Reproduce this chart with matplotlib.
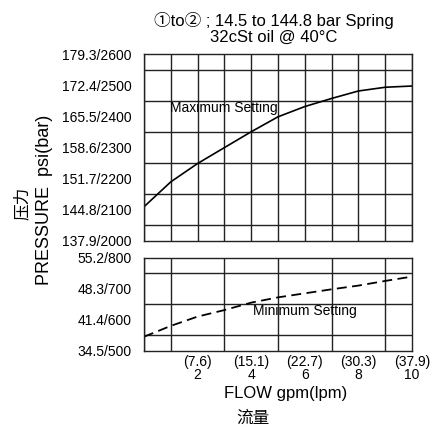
import matplotlib
matplotlib.use('Agg')
import matplotlib.pyplot as plt
import numpy as np

plt.rcParams['font.family'] = ['Liberation Sans', 'Noto Sans CJK SC', 'DejaVu Sans']

# flow in gpm
flow = [0, 1, 2, 3, 4, 5, 6, 7, 8, 9, 10]
# pressure in psi
max_setting = [2110, 2190, 2249, 2300, 2351, 2399, 2432, 2458, 2482, 2494, 2498]
min_setting = [545, 580, 610, 631, 655, 672, 685, 698, 710, 725, 739]

top_ticks = [2000, 2100, 2200, 2300, 2400, 2500, 2600]
top_labels = ['137.9/2000', '144.8/2100', '151.7/2200', '158.6/2300',
              '165.5/2400', '172.4/2500', '179.3/2600']
bot_ticks = [500, 600, 700, 800]
bot_labels = ['34.5/500', '41.4/600', '48.3/700', '55.2/800']
x_ticks = [2, 4, 6, 8, 10]
x_labels = ['(7.6)\n2', '(15.1)\n4', '(22.7)\n6', '(30.3)\n8', '(37.9)\n10']

fig = plt.figure(figsize=(4.41, 4.26), dpi=100)
ax1 = fig.add_axes([0.3265, 0.4343, 0.6077, 0.4383])
ax2 = fig.add_axes([0.3265, 0.1768, 0.6077, 0.2183])

for ax in (ax1, ax2):
    ax.set_xlim(0, 10)
    ax.set_xticks(np.arange(0, 11, 1), minor=True)
    ax.grid(True, which='minor', axis='x', color='#222222', lw=1.0)
    ax.grid(True, which='minor', axis='y', color='#222222', lw=1.0)
    ax.tick_params(which='both', length=0)
    for s in ax.spines.values():
        s.set_color('#222222')
        s.set_linewidth(1.0)

ax1.set_ylim(2000, 2600)
ax1.set_yticks(np.arange(2000, 2601, 50), minor=True)
ax1.set_yticks(top_ticks)
ax1.set_yticklabels(top_labels, fontsize=10)
ax1.set_xticks([])
ax1.plot(flow, max_setting, color='black', lw=1.2)
ax1.text(0.98, 2426, 'Maximum Setting', fontsize=10, va='center', ha='left')

ax2.set_ylim(500, 800)
ax2.set_yticks(np.arange(500, 801, 50), minor=True)
ax2.set_yticks(bot_ticks)
ax2.set_yticklabels(bot_labels, fontsize=10)
ax2.set_xticks(x_ticks)
ax2.set_xticklabels(x_labels, fontsize=10, linespacing=0.9)
ax2.plot(flow, min_setting, color='black', lw=1.3, dashes=(5.5, 3))
ax2.text(4.05, 628, 'Minimum Setting', fontsize=10, va='center', ha='left')

for ax in (ax1, ax2):
    ax.tick_params(axis='y', pad=9)
    ax.tick_params(axis='x', pad=3)

fig.text(0.62, 0.953, '①to② ; 14.5 to 144.8 bar Spring', fontsize=12, ha='center', va='center')
fig.text(0.62, 0.913, '32cSt oil @ 40°C', fontsize=12, ha='center', va='center')
fig.text(0.102, 0.53, 'PRESSURE  psi(bar)', fontsize=13, rotation=90, ha='center', va='center')
fig.text(0.05, 0.523, '压力', fontsize=12, rotation=90, ha='center', va='center')
fig.text(0.647, 0.077, 'FLOW gpm(lpm)', fontsize=12, ha='center', va='center')
fig.text(0.574, 0.018, '流量', fontsize=12, ha='center', va='center')

fig.savefig('out.png', dpi=100)
